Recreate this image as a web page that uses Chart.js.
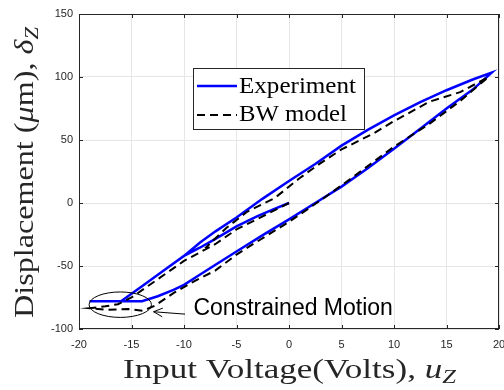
<!DOCTYPE html>
<html>
<head>
<meta charset="utf-8">
<script src="https://cdn.jsdelivr.net/npm/chart.js@4"></script>
<style>
html, body { margin:0; padding:0; background:#fff; }
</style>
</head>
<body>
<canvas id="c" width="504" height="390"></canvas>
<script>
// experiment: initial curve, descent to the stop, ascending branch, descending branch
var expX = [0, -1.5, -3, -5, -7, -8.5, -10, -12, -14, -16, -19,
            -14, -12.5, -11, -10, -8.5, -7, -5, -2.5, 0, 2.5, 5, 7.5, 10, 12.5, 15, 17.5, 19.3,
            17.5, 15, 12.5, 10, 7.5, 5, 2.5, 0, -2.5, -5, -7, -8.5, -10];
var expY = [0, -5, -10.5, -18.5, -28.5, -35.5, -42, -54, -66, -78, -78,
            -78, -74, -69, -65, -57, -49, -38.5, -25.5, -13, 0, 13, 27.5, 43, 59, 75, 90, 103.5,
            98, 89.5, 80, 69.5, 58, 45.5, 31, 17.5, 3.5, -11.5, -22.5, -31.5, -42];

// BW model
var bwX = [0, -2.8, -5, -7, -10, -12.5, -15, -16.3, -17.5, -19,
           -17.2, -15.3, -13.9, -12.8, -10.9, -9, -7, -5, -3.7, 0, 3.5, 6, 10, 13.4, 16.3, 19,
           16.3, 13.4, 10, 8, 5, 2.9, 1, -1.35, -4, -6, -8];
var bwY = [0, -11.8, -21, -32.5, -46, -60.5, -75, -80.3, -82, -83.5,
           -84.8, -84.2, -85.5, -81.6, -71, -62, -53.5, -41, -34, -15, 5, 20, 44.7, 63, 81, 100,
           88, 80.5, 65, 55, 42.5, 31, 19.7, 4, -7, -20, -36];

var xTicks = [-20, -15, -10, -5, 0, 5, 10, 15, 20];
var yTicks = [-100, -50, 0, 50, 100, 150];

// "constrained motion" ellipse, in data units
var ellC = [-16.07, -80.7], ellR = [2.97, 10.1];
var arrowFrom = [-9.9, -88.2], arrowTo = [-12.9, -86.3];
var noteAt = [-9.1, -84.2];

function pts(xs, ys) {
    return xs.map(function (x, i) { return {x: x, y: ys[i]}; });
}

// draw text pieces in a row, squeezed/stretched to a given width
function rich(ctx, segs, x, y, w, rot) {
    ctx.save();
    ctx.translate(x, y);
    if (rot) ctx.rotate(rot);
    var tot = 0;
    segs.forEach(function (s) { ctx.font = s.f; s.w = ctx.measureText(s.t).width; tot += s.w; });
    ctx.scale(w / tot, 1);
    var cx = 0;
    segs.forEach(function (s) { ctx.font = s.f; ctx.fillText(s.t, cx, s.dy || 0); cx += s.w; });
    ctx.restore();
}

var decor = {
    id: 'decor',
    afterDatasetsDraw: function (chart) {
        var ctx = chart.ctx, a = chart.chartArea, xs = chart.scales.x, ys = chart.scales.y;
        ctx.save();
        ctx.strokeStyle = '#262626';
        ctx.lineWidth = 1;
        ctx.setLineDash([]);
        ctx.strokeRect(Math.round(a.left) + 0.5, Math.round(a.top) + 0.5,
                       Math.round(a.right - a.left) - 1, Math.round(a.bottom - a.top) - 1);
        ctx.beginPath();
        xTicks.forEach(function (v) {
            var px = Math.round(xs.getPixelForValue(v)) + 0.5;
            ctx.moveTo(px, a.bottom); ctx.lineTo(px, a.bottom - 4);
            ctx.moveTo(px, a.top); ctx.lineTo(px, a.top + 4);
        });
        yTicks.forEach(function (v) {
            var py = Math.round(ys.getPixelForValue(v)) + 0.5;
            ctx.moveTo(a.left, py); ctx.lineTo(a.left + 4, py);
            ctx.moveTo(a.right, py); ctx.lineTo(a.right - 4, py);
        });
        ctx.stroke();

        // ellipse + arrow + note
        var ex = xs.getPixelForValue(ellC[0]), ey = ys.getPixelForValue(ellC[1]);
        var rx = Math.abs(xs.getPixelForValue(ellC[0] + ellR[0]) - ex);
        var ry = Math.abs(ys.getPixelForValue(ellC[1] + ellR[1]) - ey);
        ctx.strokeStyle = '#000';
        ctx.beginPath();
        ctx.ellipse(ex, ey, rx, ry, 0, 0, Math.PI * 2);
        ctx.stroke();
        var x0 = xs.getPixelForValue(arrowFrom[0]), y0 = ys.getPixelForValue(arrowFrom[1]);
        var x1 = xs.getPixelForValue(arrowTo[0]), y1 = ys.getPixelForValue(arrowTo[1]);
        var ang = Math.atan2(y1 - y0, x1 - x0);
        ctx.beginPath();
        ctx.moveTo(x0, y0); ctx.lineTo(x1, y1);
        ctx.moveTo(x1 - 10 * Math.cos(ang - 0.45), y1 - 10 * Math.sin(ang - 0.45));
        ctx.lineTo(x1, y1);
        ctx.lineTo(x1 - 10 * Math.cos(ang + 0.45), y1 - 10 * Math.sin(ang + 0.45));
        ctx.stroke();
        ctx.fillStyle = '#000';
        ctx.font = '23px "Liberation Sans", Arial, sans-serif';
        ctx.textBaseline = 'middle';
        ctx.textAlign = 'left';
        ctx.fillText('Constrained Motion', xs.getPixelForValue(noteAt[0]), ys.getPixelForValue(noteAt[1]));

        // legend
        var ds = chart.data.datasets;
        ctx.fillStyle = '#fff';
        ctx.fillRect(193.5, 68.5, 171, 61);
        ctx.strokeStyle = '#262626';
        ctx.lineWidth = 1;
        ctx.strokeRect(193.5, 68.5, 171, 61);
        [[86, 93], [115, 121]].forEach(function (r, i) {
            ctx.strokeStyle = ds[i].borderColor;
            ctx.lineWidth = ds[i].borderWidth;
            ctx.setLineDash(ds[i].borderDash || []);
            ctx.beginPath(); ctx.moveTo(197, r[0]); ctx.lineTo(237, r[0]); ctx.stroke();
            ctx.setLineDash([]);
            ctx.fillStyle = '#000';
            ctx.textBaseline = 'alphabetic';
            rich(ctx, [{t: ds[i].label, f: '23px "Liberation Serif", serif'}], 239, r[1], i ? 108 : 117);
        });

        // axis titles
        ctx.fillStyle = '#262626';
        ctx.textBaseline = 'alphabetic';
        rich(ctx, [
            {t: 'Input Voltage(Volts), ', f: '27px "Liberation Serif", serif'},
            {t: 'u', f: 'italic 27px "Liberation Serif", serif'},
            {t: 'Z', f: 'italic 19px "Liberation Serif", serif', dy: 5}
        ], 123, 378, 333);
        rich(ctx, [
            {t: 'Displacement (', f: '27px "Liberation Serif", serif'},
            {t: '\u03bc', f: 'italic 27px "Liberation Serif", serif'},
            {t: 'm), ', f: '27px "Liberation Serif", serif'},
            {t: '\u03b4', f: 'italic 27px "Liberation Serif", serif'},
            {t: 'Z', f: 'italic 19px "Liberation Serif", serif', dy: 5}
        ], 33, 318, 291, -Math.PI / 2);
        ctx.restore();
    }
};

var tickFont = {family: '"Liberation Sans", Arial, sans-serif', size: 11};

var chart = new Chart(document.getElementById('c'), {
    type: 'scatter',
    data: {
        datasets: [{
            label: 'Experiment',
            data: pts(expX, expY),
            showLine: true,
            borderColor: '#0000ff',
            borderWidth: 2.5,
            pointRadius: 0,
            order: 1
        }, {
            label: 'BW model',
            data: pts(bwX, bwY),
            showLine: true,
            borderColor: '#000000',
            borderDash: [8, 5],
            borderWidth: 2,
            pointRadius: 0,
            order: 0
        }]
    },
    options: {
        responsive: false,
        animation: false,
        devicePixelRatio: 1,
        layout: {padding: {left: 0, right: 5, top: 14, bottom: 0}},
        plugins: {legend: {display: false}, tooltip: {enabled: false}},
        scales: {
            x: {
                type: 'linear', min: -20, max: 20,
                afterBuildTicks: function (s) { s.ticks = xTicks.map(function (v) { return {value: v}; }); },
                afterFit: function (s) { s.height = 61; s.paddingLeft = 0; s.paddingRight = 0; },
                ticks: {color: '#262626', font: tickFont, padding: 9, maxRotation: 0, autoSkip: false},
                grid: {color: '#e6e6e6', drawTicks: false},
                border: {display: false}
            },
            y: {
                type: 'linear', min: -100, max: 150,
                afterBuildTicks: function (s) { s.ticks = yTicks.map(function (v) { return {value: v}; }); },
                afterFit: function (s) { s.width = 79; s.paddingTop = 0; s.paddingBottom = 0; },
                ticks: {color: '#262626', font: tickFont, padding: 6, autoSkip: false},
                grid: {color: '#e6e6e6', drawTicks: false},
                border: {display: false}
            }
        }
    },
    plugins: [decor]
});
</script>
</body>
</html>
